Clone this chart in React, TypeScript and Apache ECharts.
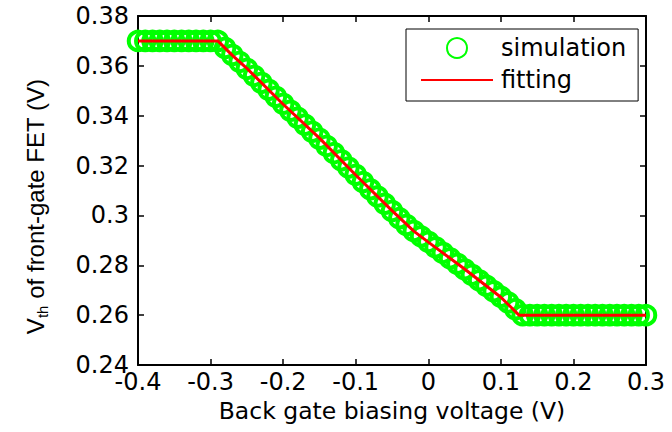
import React, { useEffect, useRef } from 'react';
import * as echarts from 'echarts';

const xValues = [
  -0.40, -0.39, -0.38, -0.37, -0.36, -0.35, -0.34, -0.33, -0.32, -0.31,
  -0.30, -0.29, -0.28, -0.27, -0.26, -0.25, -0.24, -0.23, -0.22, -0.21,
  -0.20, -0.19, -0.18, -0.17, -0.16, -0.15, -0.14, -0.13, -0.12, -0.11,
  -0.10, -0.09, -0.08, -0.07, -0.06, -0.05, -0.04, -0.03, -0.02, -0.01,
  0.00, 0.01, 0.02, 0.03, 0.04, 0.05, 0.06, 0.07, 0.08, 0.09,
  0.10, 0.11, 0.12, 0.13, 0.14, 0.15, 0.16, 0.17, 0.18, 0.19,
  0.20, 0.21, 0.22, 0.23, 0.24, 0.25, 0.26, 0.27, 0.28, 0.29,
  0.30,
];

const simulationValues = [
  0.370, 0.370, 0.370, 0.370, 0.370, 0.370, 0.370, 0.370, 0.370, 0.370,
  0.370, 0.370, 0.3672, 0.3644, 0.3616, 0.3588, 0.3560, 0.3532, 0.3504, 0.3476,
  0.3448, 0.3420, 0.3392, 0.3364, 0.3336, 0.3308, 0.3279, 0.3250, 0.3221, 0.3192,
  0.3163, 0.3134, 0.3105, 0.3076, 0.3047, 0.3018, 0.2989, 0.2962, 0.2938, 0.2916,
  0.2894, 0.2872, 0.2850, 0.2828, 0.2806, 0.2784, 0.2762, 0.2740, 0.2718, 0.2696,
  0.2674, 0.2651, 0.2624, 0.2600, 0.260, 0.260, 0.260, 0.260, 0.260, 0.260,
  0.260, 0.260, 0.260, 0.260, 0.260, 0.260, 0.260, 0.260, 0.260, 0.260,
  0.260,
];

const fitX = [-0.4, -0.29, -0.27, -0.25, -0.2, -0.15, -0.1, -0.05, -0.02, 0, 0.05, 0.1, 0.125, 0.3];
const fitY = [0.370, 0.370, 0.3642, 0.3590, 0.3446, 0.3310, 0.3162, 0.3019, 0.2937, 0.2893, 0.2785, 0.2672, 0.2600, 0.2600];

const seriesNames = ['simulation', 'fitting'];
const xAxisTitle = 'Back gate biasing voltage (V)';

export default function App() {
  const ref = useRef<HTMLDivElement>(null);
  useEffect(() => {
    const chart = echarts.init(ref.current!, null, { renderer: 'svg' });
    const axisLine = { show: true, onZero: false, lineStyle: { color: '#000', width: 2 } };
    const axisTick = { show: true, inside: true, length: 6, lineStyle: { color: '#000', width: 1.5 } };
    const labelFont = { color: '#000', fontFamily: 'DejaVu Sans', fontSize: 24 };
    chart.setOption({
      animation: false,
      backgroundColor: '#fff',
      grid: { left: 138, right: 26, top: 16, bottom: 67 },
      xAxis: [
        {
          type: 'value', min: -0.4, max: 0.3, interval: 0.1, position: 'bottom',
          axisLine, axisTick, splitLine: { show: false },
          axisLabel: { ...labelFont, margin: 5 },
          name: xAxisTitle, nameLocation: 'middle', nameGap: 31,
          nameTextStyle: { ...labelFont, fontSize: 23.5 },
        },
        {
          type: 'value', min: -0.4, max: 0.3, interval: 0.1, position: 'top',
          axisLine, axisTick, splitLine: { show: false }, axisLabel: { show: false },
        },
      ],
      yAxis: [
        {
          type: 'value', min: 0.24, max: 0.38, interval: 0.02, position: 'left',
          axisLine, axisTick, splitLine: { show: false },
          axisLabel: { ...labelFont, margin: 9 },
          name: '{v|V}{s|th}{v| of front-gate FET (V)}',
          nameLocation: 'middle', nameRotate: 90, nameGap: 88,
          nameTextStyle: {
            color: '#000', fontFamily: 'Liberation Sans', fontSize: 24,
            padding: [0, 32, 0, 0],
            rich: {
              v: { color: '#000', fontFamily: 'Liberation Sans', fontSize: 24 },
              s: { color: '#000', fontFamily: 'Liberation Sans', fontSize: 15, padding: [14, 0, 0, 0] },
            },
          },
        },
        {
          type: 'value', min: 0.24, max: 0.38, interval: 0.02, position: 'right',
          axisLine, axisTick, splitLine: { show: false }, axisLabel: { show: false },
        },
      ],
      legend: {
        orient: 'vertical', left: 406, top: 29,
        padding: [7, 12, 9, 14], itemWidth: 72, itemHeight: 20, itemGap: 8,
        borderColor: '#000', borderWidth: 1, backgroundColor: '#fff',
        textStyle: { fontFamily: 'DejaVu Sans', fontSize: 24, color: '#000', lineHeight: 24, padding: [0, 0, 0, 3] },
        data: [
          { name: seriesNames[0] },
          { name: seriesNames[1], itemStyle: { opacity: 0 } },
        ],
      },
      series: [
        {
          name: seriesNames[0], type: 'scatter', clip: false,
          symbol: 'circle', symbolSize: 18.5,
          itemStyle: { color: 'rgba(0,0,0,0)', borderColor: '#00ff00', borderWidth: 4, opacity: 1 },
          data: xValues.map((x, i) => [x, simulationValues[i]]),
          z: 2,
        },
        {
          name: seriesNames[1], type: 'line', symbol: 'none', showSymbol: false,
          lineStyle: { color: '#ff0000', width: 3 }, itemStyle: { color: '#ff0000' },
          data: fitX.map((x, i) => [x, fitY[i]]),
          z: 3,
        },
      ],
    });
    return () => chart.dispose();
  }, []);
  return <div ref={ref} style={{ position: 'absolute', left: 0, top: 0, width: 672, height: 432 }} />;
}
